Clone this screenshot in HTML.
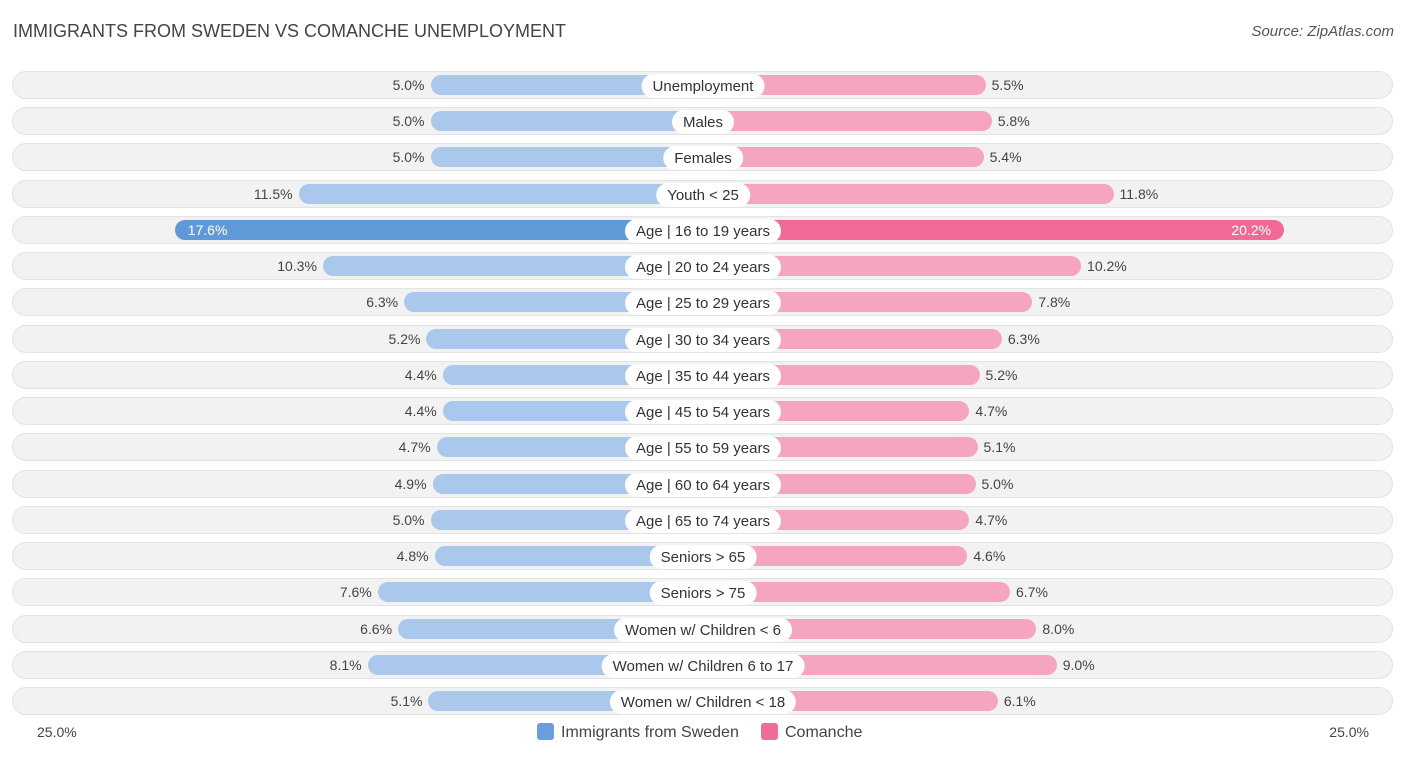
<!DOCTYPE html>
<html><head><meta charset="utf-8"><style>
body{margin:0;width:1406px;height:757px;background:#fff;font-family:"Liberation Sans",sans-serif;overflow:hidden;position:relative}
.title{position:absolute;left:13px;top:21px;font-size:18px;color:#444}
.src{position:absolute;right:12px;top:23px;font-size:15px;color:#555;font-style:italic}
.row{position:absolute;left:12px;width:1381px;height:28px;border-radius:14px;background:#f2f2f2;box-shadow:0 0 0 1px #e3e3e3 inset}
.bar{position:absolute;height:20px;border-radius:10px}
.lab{position:absolute;height:24px;line-height:25px;background:#fff;border-radius:12px;font-size:15px;color:#333;padding:0 11px;transform:translateX(-50%);white-space:nowrap}
.val{position:absolute;font-size:14px;color:#444;line-height:21px}
.leg{position:absolute;top:723px;font-size:16px;color:#444}
.sw{display:inline-block;width:17px;height:17px;border-radius:3px;vertical-align:-3px;margin-right:7px}
.ax{position:absolute;top:724px;font-size:14px;color:#444}
</style></head><body>
<div class="title">IMMIGRANTS FROM SWEDEN VS COMANCHE UNEMPLOYMENT</div>
<div class="src">Source: ZipAtlas.com</div>
<div id="chart"></div>
<div class="ax" style="left:37px">25.0%</div>
<div class="ax" style="right:37px">25.0%</div>
<div class="leg" style="left:537px"><span class="sw" style="background:#6a9fdc"></span>Immigrants from Sweden</div>
<div class="leg" style="left:761px"><span class="sw" style="background:#f06c98"></span>Comanche</div>
<script>
const categories=["Unemployment","Males","Females","Youth < 25","Age | 16 to 19 years","Age | 20 to 24 years","Age | 25 to 29 years","Age | 30 to 34 years","Age | 35 to 44 years","Age | 45 to 54 years","Age | 55 to 59 years","Age | 60 to 64 years","Age | 65 to 74 years","Seniors > 65","Seniors > 75","Women w/ Children < 6","Women w/ Children 6 to 17","Women w/ Children < 18"];
const swedenValues=[5.0,5.0,5.0,11.5,17.6,10.3,6.3,5.2,4.4,4.4,4.7,4.9,5.0,4.8,7.6,6.6,8.1,5.1];
const comancheValues=[5.5,5.8,5.4,11.8,20.2,10.2,7.8,6.3,5.2,4.7,5.1,5.0,4.7,4.6,6.7,8.0,9.0,6.1];
const cx=703,off=171,k=20.3,y0=85,step=36.24;
const len=v=>off+v*k;
const maxS=Math.max(...swedenValues),maxC=Math.max(...comancheValues);
const ch=document.getElementById('chart');
categories.forEach((c,i)=>{
 const y=y0+i*step;
 const r=document.createElement('div');r.className='row';r.style.top=(y-14)+'px';
 
 
 ch.appendChild(r);
 const s=swedenValues[i],m=comancheValues[i];
 const ls=len(s),lc=len(m);
 const strongS=s===maxS, strongC=m===maxC;
 const b1=document.createElement('div');b1.className='bar';
 b1.style.cssText=`left:${cx-ls}px;width:${ls}px;top:${y-10}px;background:${strongS?'#6199d8':'#a9c8eb'}`;
 
 
 ch.appendChild(b1);
 const b2=document.createElement('div');b2.className='bar';
 b2.style.cssText=`left:${cx}px;width:${lc}px;top:${y-10}px;background:${strongC?'#f06a96':'#f5a5c0'}`;
 
 
 ch.appendChild(b2);
 const v1=document.createElement('div');v1.className='val';v1.textContent=s.toFixed(1)+'%';
 v1.style.top=(y-10)+'px';
 if(strongS){v1.style.left=(cx-ls+13)+'px';v1.style.color='#fff';}else{v1.style.right=(1406-(cx-ls)+6)+'px';}
 
 
 ch.appendChild(v1);
 const v2=document.createElement('div');v2.className='val';v2.textContent=m.toFixed(1)+'%';
 v2.style.top=(y-10)+'px';
 if(strongC){v2.style.right=(1406-(cx+lc)+13)+'px';v2.style.color='#fff';}else{v2.style.left=(cx+lc+6)+'px';}
 
 
 ch.appendChild(v2);
 const l=document.createElement('div');l.className='lab';l.textContent=c;
 l.style.left=cx+'px';l.style.top=(y-11)+'px';
 
 
 ch.appendChild(l);
});
</script>
</body></html>
